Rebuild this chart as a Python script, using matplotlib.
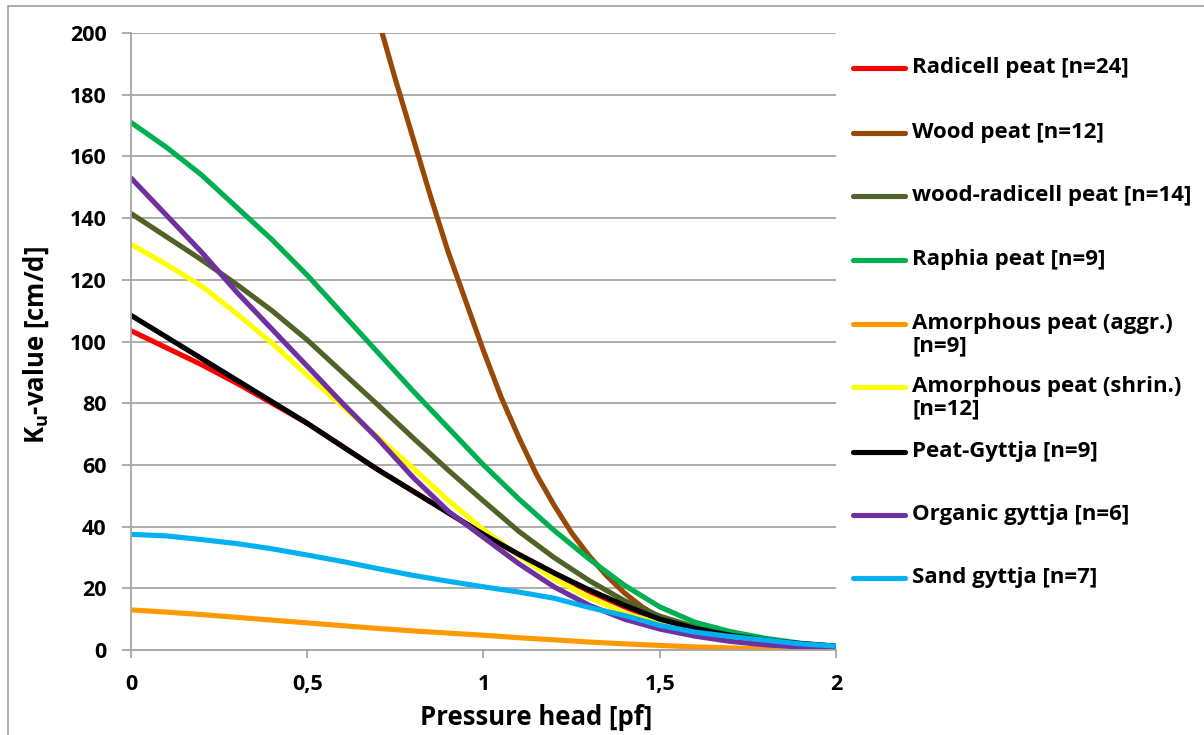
import matplotlib
matplotlib.use("Agg")
import matplotlib.pyplot as plt
from matplotlib.lines import Line2D
from matplotlib.patches import Rectangle

plt.rcParams['font.family'] = ['Open Sans', 'DejaVu Sans']
plt.rcParams['font.weight'] = 'bold'
plt.rcParams['mathtext.fontset'] = 'custom'
plt.rcParams['mathtext.rm'] = 'Open Sans:bold'
plt.rcParams['mathtext.it'] = 'Open Sans:bold'
plt.rcParams['mathtext.bf'] = 'Open Sans:bold'

# pressure head [pf] and unsaturated conductivity [cm/d]
x = [0, 0.1, 0.2, 0.3, 0.4, 0.5, 0.6, 0.7, 0.8, 0.9, 1.0,
     1.1, 1.2, 1.3, 1.4, 1.5, 1.6, 1.7, 1.8, 1.9, 2.0]

radicell = [103.5, 98, 92.5, 86.5, 80, 73.5, 66, 58.5, 51.5, 44.5, 37.5,
            31, 25, 19, 14, 9.5, 6.5, 4.2, 2.7, 1.7, 1.1]
x_wood = [0.7, 0.75, 0.8, 0.85, 0.9, 0.95, 1.0, 1.05, 1.1, 1.15, 1.2,
          1.25, 1.3, 1.35, 1.4, 1.45, 1.5, 1.6, 1.7, 1.8, 1.9, 2.0]
wood = [205, 185, 166, 147, 129, 113, 97, 82, 69, 57, 47,
        38, 30.5, 24, 18.5, 14, 10.5, 6, 3.5, 2, 1.3, 1.0]
wood_radicell = [141.5, 134, 126.5, 118.5, 110, 100.5, 90, 79.5, 68.8, 58.3, 48.3,
                 38.5, 30, 22.5, 16, 11, 7.5, 4.8, 3, 1.8, 1.1]
raphia = [171, 163, 154, 143.5, 133, 121.5, 109, 96.5, 84, 72, 60,
          49, 38.8, 29.5, 21, 14, 9, 6, 3.8, 2.2, 1.2]
amorph_aggr = [13, 12.3, 11.5, 10.6, 9.7, 8.8, 7.9, 7.0, 6.2, 5.5, 4.8,
               4.0, 3.3, 2.6, 2.0, 1.5, 1.0, 0.7, 0.4, 0.25, 0.15]
amorph_shrin = [131.5, 125, 118, 109, 99.5, 89, 79, 69, 59, 48.5, 39,
                30.5, 23, 17, 12, 8.5, 5.8, 3.8, 2.4, 1.5, 0.9]
peat_gyttja = [108.5, 101.5, 94.5, 87.5, 80.5, 73.5, 66, 58.5, 51.5, 44.5, 37.5,
               31, 25, 19.5, 14.5, 10, 7, 4.8, 3.2, 2.1, 1.3]
organic_gyttja = [153, 141, 129, 116, 104, 92, 80, 68.5, 56, 45, 36.5,
                  28, 20.5, 14.5, 10, 6.8, 4.5, 2.8, 1.7, 1, 0.6]
sand_gyttja = [37.5, 37, 35.8, 34.5, 32.8, 30.8, 28.7, 26.4, 24.2, 22.3, 20.5,
               18.8, 16.8, 13.8, 11.2, 8, 5.8, 4.4, 3.2, 2, 1.3]

labels = ['Radicell peat [n=24]', 'Wood peat [n=12]', 'wood-radicell peat [n=14]',
          'Raphia peat [n=9]', 'Amorphous peat (aggr.)\n[n=9]',
          'Amorphous peat (shrin.)\n[n=12]', 'Peat-Gyttja [n=9]',
          'Organic gyttja [n=6]', 'Sand gyttja [n=7]']
series = [(x, radicell), (x_wood, wood), (x, wood_radicell), (x, raphia),
          (x, amorph_aggr), (x, amorph_shrin), (x, peat_gyttja),
          (x, organic_gyttja), (x, sand_gyttja)]
colors = ['#FF0000', '#984807', '#4F6228', '#00B050', '#FF9900',
          '#FFFF00', '#000000', '#7030A0', '#00B0F0']

fig = plt.figure(figsize=(12.04, 7.35), dpi=100)
ax = fig.add_axes([0.1088, 0.1156, 0.5855, 0.8395])

for (xs, ys), c in zip(series, colors):
    ax.plot(xs, ys, color=c, lw=3.7, solid_capstyle='round', solid_joinstyle='round')

ax.set_xlim(0, 2)
ax.set_ylim(0, 200)
ax.set_yticks(range(0, 201, 20))
ax.set_xticks([0, 0.5, 1, 1.5, 2])
ax.set_xticklabels(['0', '0,5', '1', '1,5', '2'])
ax.grid(axis='y', color='#A6A6A6', lw=1.3)
ax.set_axisbelow(True)
for s in ['top', 'right']:
    ax.spines[s].set_visible(False)
for s in ['left', 'bottom']:
    ax.spines[s].set_color('#A6A6A6')
    ax.spines[s].set_linewidth(1.3)
ax.tick_params(axis='y', colors='#A6A6A6', labelcolor='black', length=6.5,
               width=1.3, pad=11, labelsize=15.5)
ax.tick_params(axis='x', colors='#A6A6A6', labelcolor='black', length=6,
               width=1.3, pad=11, labelsize=15.5)

ax.set_xlabel('Pressure head [pf]', fontsize=18.5, fontweight='bold')
ax.xaxis.set_label_coords(0.575, -0.087)
ax.set_ylabel('K$_{u}$-value [cm/d]', fontsize=18.5, fontweight='bold')
ax.yaxis.set_label_coords(-0.114, 0.495)

# legend drawn by hand so the key lines sit on the first text line
legend_y = [68, 133, 196, 260, 324, 387, 452, 515, 578]
for lab, c, py in zip(labels, colors, legend_y):
    yf = 1 - py / 735
    fig.add_artist(Line2D([853 / 1204, 905 / 1204], [yf, yf], color=c, lw=3.7,
                          solid_capstyle='round', transform=fig.transFigure))
    fig.text(912 / 1204, yf + 11 / 735, lab, fontsize=16, fontweight='bold',
             va='top', ha='left', linespacing=1.12)

fig.add_artist(Rectangle((8 / 1204, -0.1), 1.2, 1.1 - 6 / 735, fill=False,
                         edgecolor='#A0A0A0', lw=1.2, transform=fig.transFigure))

fig.savefig('out.png', dpi=100)
